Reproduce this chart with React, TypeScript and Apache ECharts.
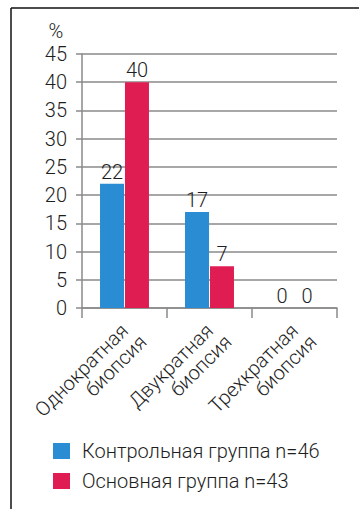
import React, { useEffect, useRef } from "react";
import * as echarts from "echarts";

const categoriesLine1 = ["Однократная", "Двукратная", "Трехкратная"];
const categoriesLine2 = ["биопсия", "биопсия", "биопсия"];
const controlValues = [22, 17, 0];
const mainValues = [40, 7.4, 0];
const seriesNames = ["Контрольная группа n=46", "Основная группа n=43"];
const yTicks = { min: 0, max: 45, interval: 5 };
const unitLabel = "%";

const FONT = "Roboto, 'Liberation Sans', Arial, sans-serif";
const WEIGHT = 300;
const TEXT = "#1e1e1e";
const GRID = "#8a8a8a";

export default function App() {
  const ref = useRef<HTMLDivElement>(null);
  useEffect(() => {
    if (!ref.current) return;
    const chart = echarts.init(ref.current, null, { renderer: "svg" });
    const label = {
      show: true,
      position: "top",
      distance: 2,
      fontSize: 20,
      fontFamily: FONT,
      fontWeight: WEIGHT,
      color: TEXT,
      formatter: (p: any) => String(Math.round(p.value)),
    };
    const xLabelBase = {
      interval: 0,
      rotate: 45,
      fontSize: 20,
      color: TEXT,
      fontFamily: FONT,
      fontWeight: WEIGHT,
      align: "right",
    };
    chart.setOption({
      animation: false,
      backgroundColor: "#ffffff",
      textStyle: { fontFamily: FONT, fontWeight: WEIGHT },
      grid: { left: 82, right: 22, top: 54, bottom: 201, containLabel: false },
      legend: {
        orient: "vertical",
        left: 48,
        top: 436,
        itemWidth: 17,
        itemHeight: 16,
        itemGap: 10,
        icon: "rect",
        textStyle: { fontSize: 20, color: TEXT, fontFamily: FONT, fontWeight: WEIGHT, padding: [0, 0, 0, 7] },
        data: seriesNames,
      },
      xAxis: [
        {
          type: "category",
          data: categoriesLine1,
          position: "bottom",
          axisLine: { lineStyle: { color: GRID, width: 1.5 } },
          axisTick: { show: true, length: 10, lineStyle: { color: GRID, width: 1.5 } },
          axisLabel: { ...xLabelBase, margin: 19, verticalAlign: "middle", lineHeight: 20 },
        },
        {
          type: "category",
          data: categoriesLine2,
          position: "bottom",
          axisLine: { show: false },
          axisTick: { show: false },
          splitLine: { show: false },
          axisLabel: { ...xLabelBase, margin: 12, verticalAlign: "top", lineHeight: 52 },
        },
      ],
      yAxis: {
        type: "value",
        min: yTicks.min,
        max: yTicks.max,
        interval: yTicks.interval,
        axisLine: { show: true, lineStyle: { color: GRID, width: 1.5 } },
        axisTick: { show: true, length: 6, lineStyle: { color: GRID, width: 1.5 } },
        splitLine: { show: true, lineStyle: { color: GRID, width: 1.5 } },
        axisLabel: { fontSize: 20, color: TEXT, fontFamily: FONT, fontWeight: WEIGHT, margin: 15 },
      },
      series: [
        {
          name: seriesNames[0],
          type: "bar",
          xAxisIndex: 0,
          data: controlValues,
          barWidth: 24,
          barGap: "4%",
          itemStyle: { color: "#2a8cd2" },
          label,
        },
        {
          name: seriesNames[1],
          type: "bar",
          xAxisIndex: 0,
          data: mainValues,
          barWidth: 24,
          itemStyle: { color: "#e01d52" },
          label,
        },
      ],
      graphic: [
        {
          type: "line",
          shape: { x1: 11, y1: 8, x2: 359, y2: 8 },
          style: { stroke: "#111", lineWidth: 1.5 },
        },
        {
          type: "line",
          shape: { x1: 11, y1: 8, x2: 11, y2: 509 },
          style: { stroke: "#111", lineWidth: 1.5 },
        },
        {
          type: "text",
          x: 56,
          y: 31,
          style: {
            text: unitLabel,
            fill: TEXT,
            font: `${WEIGHT} 20px ${FONT}`,
            align: "center",
            verticalAlign: "middle",
          },
        },
      ],
    });
    return () => chart.dispose();
  }, []);
  return (
    <div
      ref={ref}
      style={{ position: "fixed", left: 0, top: 0, width: 359, height: 509 }}
    />
  );
}
